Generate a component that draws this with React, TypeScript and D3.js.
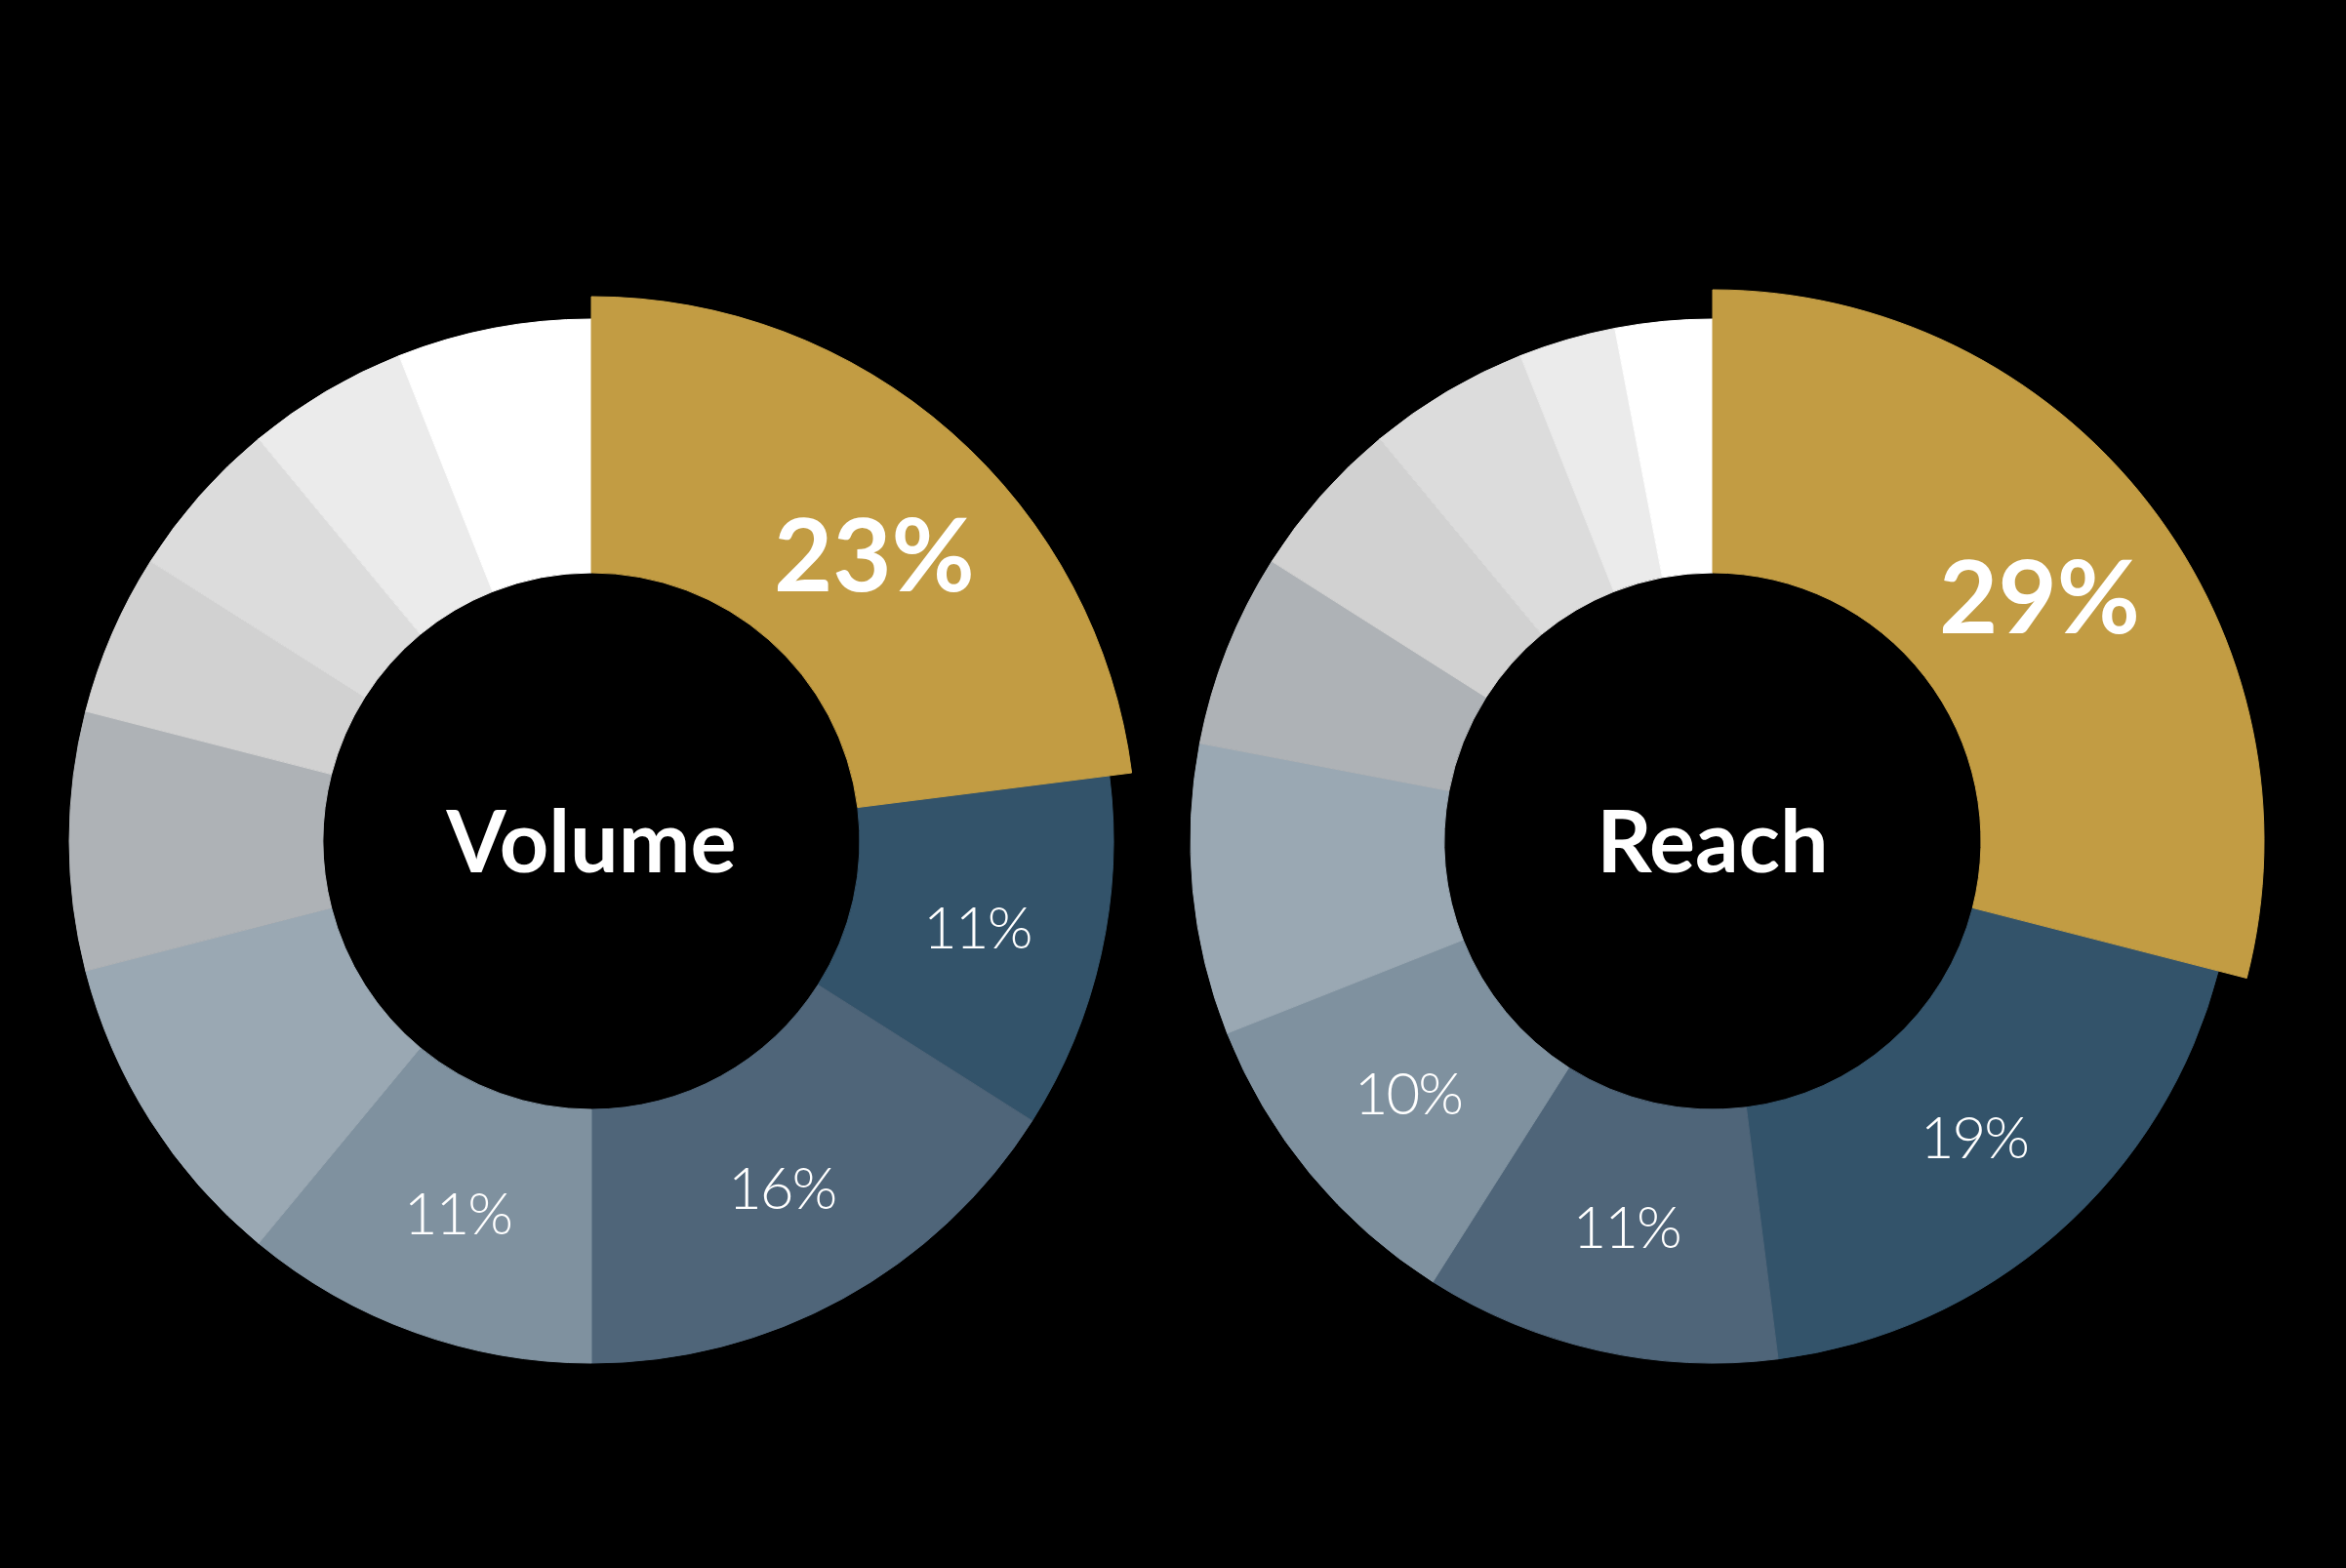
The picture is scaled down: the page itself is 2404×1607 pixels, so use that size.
import React from "react";
import * as d3 from "d3";

const segments = ["S1", "S2", "S3", "S4", "S5", "S6", "S7", "S8", "S9", "S10"];
const volumeValues = [23, 11, 16, 11, 10, 8, 5, 5, 5, 6];
const reachValues = [29, 19, 11, 10, 9, 6, 5, 5, 3, 3];
const segmentColors = [
  "#c29c43",
  "#33536a",
  "#4f6579",
  "#7f919f",
  "#9aa8b3",
  "#aeb2b6",
  "#d1d1d1",
  "#dcdcdc",
  "#ebebeb",
  "#ffffff",
];
const chartTitles = ["Volume", "Reach"];
const labelledCount = 4;

const W = 2404;
const H = 1607;

type DonutProps = {
  cx: number;
  cy: number;
  title: string;
  values: number[];
  highlightR: number;
  bigDx: number;
  bigDy: number;
};

function Donut({ cx, cy, title, values, highlightR, bigDx, bigDy }: DonutProps) {
  const innerR = 275;
  const outerR = 535;
  const pie = d3
    .pie<number>()
    .sort(null)
    .value((d) => d)
    .startAngle(0)
    .endAngle(2 * Math.PI);
  const arcs = pie(values);
  const arcGen = d3
    .arc<d3.PieArcDatum<number>>()
    .innerRadius(innerR)
    .outerRadius((d) => (d.index === 0 ? highlightR : outerR));
  const labelArc = d3
    .arc<d3.PieArcDatum<number>>()
    .innerRadius(innerR)
    .outerRadius(outerR);

  // draw the highlighted slice last so it sits on top of its neighbours
  const order = arcs.map((_, i) => i).slice(1).concat([0]);

  return (
    <g transform={`translate(${cx},${cy})`}>
      {order.map((i) => (
        <path
          key={segments[i]}
          d={arcGen(arcs[i]) || ""}
          fill={segmentColors[i]}
          stroke={segmentColors[i]}
          strokeWidth={1}
          strokeLinejoin="miter"
        />
      ))}
      {arcs.slice(0, labelledCount).map((a, i) => {
        const [x, y] = labelArc.centroid(a);
        const big = i === 0;
        const fs = big ? 104 : 60;
        return (
          <text
            key={"l" + i}
            x={x + (big ? bigDx : 0)}
            y={y + fs * 0.36 + (big ? bigDy : 0)}
            textAnchor="middle"
            fill="#ffffff"
            fontFamily="Lato, 'Open Sans', sans-serif"
            fontWeight={big ? 700 : 300}
            fontSize={fs}
            letterSpacing={big ? 0 : -2}
          >
            {a.data}%
          </text>
        );
      })}
      <text
        x={0}
        y={32}
        textAnchor="middle"
        fill="#ffffff"
        fontFamily="Lato, 'Open Sans', sans-serif"
        fontWeight={700}
        fontSize={88}
      >
        {title}
      </text>
    </g>
  );
}

export default function App() {
  return (
    <svg
      width={W}
      height={H}
      viewBox={`0 0 ${W} ${H}`}
      style={{ position: "fixed", left: 0, top: 0, background: "#000" }}
    >
      <rect x={0} y={0} width={W} height={H} fill="#000000" />
      <Donut
        cx={606}
        cy={862}
        title={chartTitles[0]}
        values={volumeValues}
        highlightR={558}
        bigDx={22}
        bigDy={10}
      />
      <Donut
        cx={1755}
        cy={862}
        title={chartTitles[1]}
        values={reachValues}
        highlightR={565}
        bigDx={15}
        bigDy={-2}
      />
    </svg>
  );
}
